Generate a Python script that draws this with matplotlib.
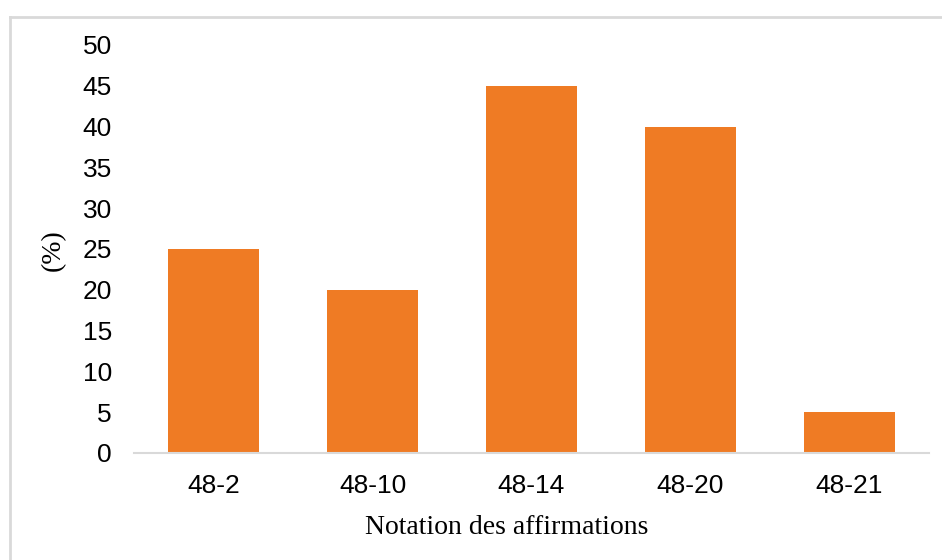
import matplotlib
matplotlib.use("Agg")
import matplotlib.pyplot as plt
from matplotlib.lines import Line2D

# donnees
categories = ["48-2", "48-10", "48-14", "48-20", "48-21"]
valeurs = [25, 20, 45, 40, 5]
yticks = [0, 5, 10, 15, 20, 25, 30, 35, 40, 45, 50]

W, H = 942, 560
fig = plt.figure(figsize=(W / 100, H / 100), dpi=100)
ax = fig.add_axes([134 / W, 107 / H, (929 - 134) / W, (453 - 45) / H])

x = range(len(categories))
ax.bar(x, valeurs, width=0.57, color="#EF7B24", zorder=2)

ax.set_xlim(-0.5, len(categories) - 0.5)
ax.set_ylim(0, 50)
ax.set_yticks(yticks)
ax.set_xticks(list(x))
ax.set_xticklabels(categories)

for s in ["top", "right", "left"]:
    ax.spines[s].set_visible(False)
ax.spines["bottom"].set_color("#D9D9D9")
ax.spines["bottom"].set_linewidth(1.5)

ax.tick_params(axis="both", length=0, labelsize=19, colors="#000000")
ax.tick_params(axis="x", pad=15)
ax.tick_params(axis="y", pad=16)
for lab in ax.get_xticklabels() + ax.get_yticklabels():
    lab.set_fontfamily("Liberation Sans")

fig.text(507 / W, 1 - 527 / H, "Notation des affirmations", ha="center", va="center",
         fontsize=20, family="Liberation Serif")
fig.text(53 / W, 1 - 250 / H, "(%)", ha="center", va="center", rotation=90,
         fontsize=20, family="Liberation Serif")

# cadre gris clair
fig.add_artist(Line2D([10 / W, 1], [1 - 17 / H, 1 - 17 / H], color="#D9D9D9", lw=2,
                      transform=fig.transFigure))
fig.add_artist(Line2D([10 / W, 10 / W], [0, 1 - 17 / H], color="#D9D9D9", lw=2,
                      transform=fig.transFigure))

fig.savefig("out.png", dpi=100)
